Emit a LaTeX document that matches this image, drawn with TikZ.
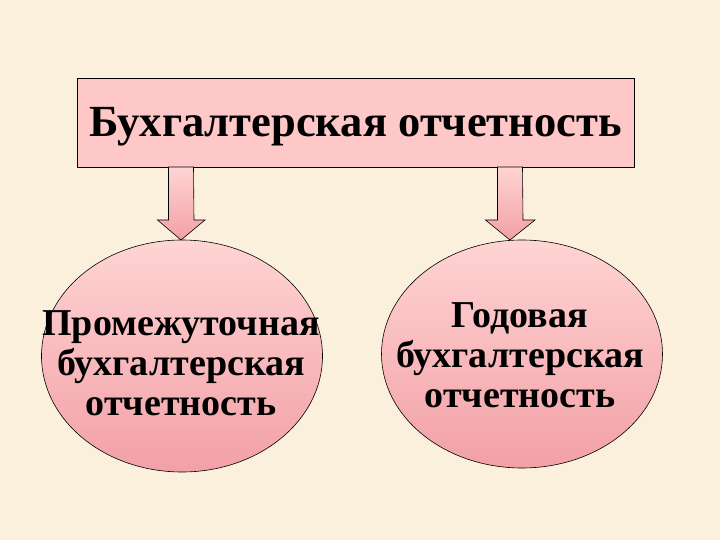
\documentclass[tikz,border=0pt]{standalone}
\usepackage{fontspec}
\setmainfont{Liberation Serif}
\usetikzlibrary{shapes.geometric}
\definecolor{bgc}{HTML}{FAF0DC}
\definecolor{boxpink}{HTML}{FFC8C8}
\definecolor{pinktop}{HTML}{FFD4D4}
\definecolor{pinkbot}{HTML}{F2A0A6}
\tikzset{
  titlebox/.style={draw=black, line width=0.8pt, fill=boxpink, minimum width=557pt, minimum height=89pt, inner sep=0pt},
  titletext/.style={inner sep=0pt, font=\bfseries\fontsize{44.5}{48}\selectfont},
  oval/.style={ellipse, draw=black, line width=0.6pt, top color=pinktop, bottom color=pinkbot, minimum width=281pt, minimum height=232pt, inner sep=0pt},
  ovaltext/.style={align=center, inner sep=0pt, font=\bfseries\fontsize{38}{40}\selectfont},
  downarrow/.style={draw=black, line width=0.6pt, top color=pinktop, bottom color=pinkbot}
}
\begin{document}
\begin{tikzpicture}[x=1pt,y=-1pt]
\fill[bgc] (0,0) rectangle (720,540);
\useasboundingbox (0,0) rectangle (720,540);
\node[titlebox] (title) at (355.5,122.5) {};
\node[titletext] (titletxt) at (355.5,126.5) {Бухгалтерская отчетность};
\node[oval] (left) at (182,356) {};
\node[oval, minimum height=228pt] (right) at (522,354) {};
\node[ovaltext] (lefttext) at (181,363) {Промежуточная\\бухгалтерская\\отчетность};
\node[ovaltext] (righttext) at (520,355) {Годовая\\бухгалтерская\\отчетность};
\coordinate (la) at (181,167);
\coordinate (ra) at (510,167);
\coordinate (lt) at (181,240);
\coordinate (rt) at (510,240);
\path[downarrow] ([xshift=-12.5pt]la) -- ++(0,53) -- ++(-11,0) -- (lt) -- ++(24,-20) -- ++(-11,0) -- ([xshift=12.5pt]la) -- cycle;
\path[downarrow] ([xshift=-12.5pt]ra) -- ++(0,53) -- ++(-12,0) -- (rt) -- ++(25,-20) -- ++(-12,0) -- ([xshift=12.5pt]ra) -- cycle;
\end{tikzpicture}
\end{document}
